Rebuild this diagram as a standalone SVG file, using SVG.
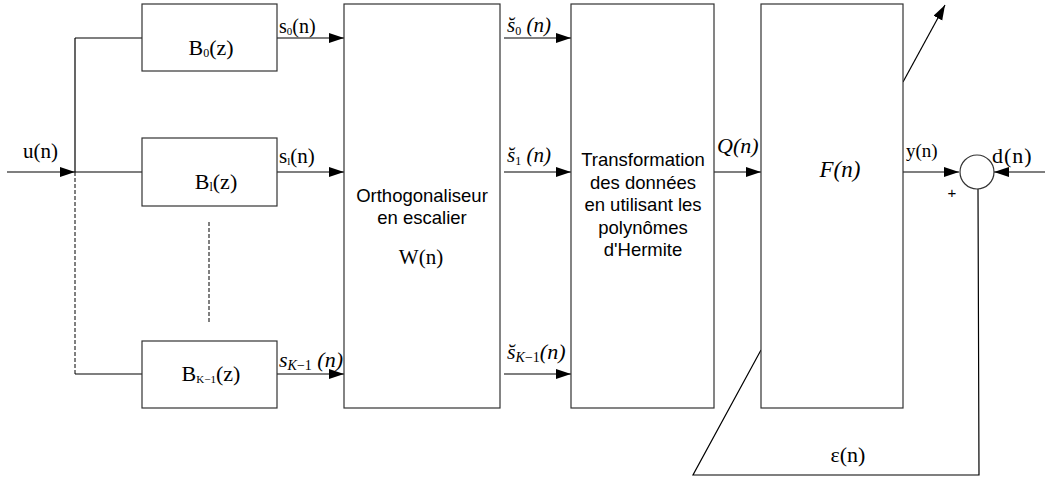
<svg xmlns="http://www.w3.org/2000/svg" width="1045" height="477" viewBox="0 0 1045 477">
<style>
.box{fill:#fff;stroke:#333;stroke-width:1.2}
.ln{fill:none;stroke:#000;stroke-width:1.2}
.dash{fill:none;stroke:#000;stroke-width:1;stroke-dasharray:4,2}
.arr{marker-end:url(#ah)}
.sr{font-family:"Liberation Serif","Times New Roman",serif;fill:#000}
.sa{font-family:"Liberation Sans",Arial,sans-serif;fill:#000;font-size:18.5px;text-anchor:middle}
.it{font-style:italic}
</style>
<defs>
<marker id="ah" markerUnits="userSpaceOnUse" markerWidth="16" markerHeight="11" refX="15" refY="5" orient="auto">
<path d="M0,0 L15,5 L0,10 Z" fill="#000"/>
</marker>
</defs>
<g id="connectors">
<line class="ln arr" x1="7" y1="172" x2="75" y2="172"/>
<line class="ln" x1="75" y1="38" x2="75" y2="172"/>
<line class="ln" x1="75" y1="38" x2="142" y2="38"/>
<line class="ln" x1="75" y1="172" x2="142" y2="172"/>
<line class="dash" x1="75" y1="172" x2="75" y2="374"/>
<line class="ln" x1="75" y1="374" x2="142" y2="374"/>
<line class="dash" x1="209" y1="222" x2="209" y2="323"/>
<line class="ln arr" x1="277" y1="38" x2="344" y2="38"/>
<line class="ln arr" x1="277" y1="172" x2="344" y2="172"/>
<line class="ln arr" x1="277" y1="374" x2="344" y2="374"/>
<line class="ln arr" x1="504" y1="38" x2="571" y2="38"/>
<line class="ln arr" x1="504" y1="172" x2="571" y2="172"/>
<line class="ln arr" x1="504" y1="374" x2="571" y2="374"/>
<line class="ln arr" x1="714" y1="172" x2="761" y2="172"/>
<line class="ln arr" x1="903" y1="172" x2="959" y2="172"/>
<line class="ln arr" x1="1045" y1="172" x2="994" y2="172"/>
<polyline class="ln" points="978,189 979,475 693,475 761,350"/>
<line class="ln arr" x1="903" y1="82" x2="945" y2="5"/>
</g>
<g id="B0">
<rect class="box" x="142" y="4" width="135" height="67"/>
<text class="sr" x="211" y="55" font-size="22" text-anchor="middle">B<tspan font-size="12" dy="2">0</tspan><tspan dy="-2">(z)</tspan></text>
</g>
<g id="B1">
<rect class="box" x="142" y="138" width="135" height="68"/>
<text class="sr" x="216" y="189" font-size="22" text-anchor="middle">B<tspan font-size="12" dy="2">l</tspan><tspan dy="-2">(z)</tspan></text>
</g>
<g id="BK">
<rect class="box" x="142" y="341" width="135" height="67"/>
<text class="sr" x="211" y="381" font-size="22" text-anchor="middle">B<tspan font-size="11" dy="2">K−1</tspan><tspan dy="-2">(z)</tspan></text>
</g>
<g id="W">
<rect class="box" x="344" y="4" width="156" height="404"/>
<text class="sa" x="422" y="202">Orthogonaliseur</text>
<text class="sa" x="422" y="224">en escalier</text>
<text class="sr" x="421" y="264" font-size="21" text-anchor="middle">W(n)</text>
</g>
<g id="H">
<rect class="box" x="571" y="4" width="143" height="404"/>
<text class="sa" x="643" y="166">Transformation</text>
<text class="sa" x="643" y="189">des données</text>
<text class="sa" x="643" y="211">en utilisant les</text>
<text class="sa" x="643" y="234">polynômes</text>
<text class="sa" x="643" y="256">d'Hermite</text>
</g>
<g id="F">
<rect class="box" x="761" y="4" width="142" height="404"/>
<text class="sr it" x="840" y="177" font-size="23" text-anchor="middle">F(n)</text>
</g>
<g id="sum">
<circle class="box" cx="977" cy="172" r="17"/>
<text x="952" y="198" font-family="Liberation Sans, Arial, sans-serif" font-size="15" fill="#000" text-anchor="middle">+</text>
</g>
<g id="labels">
<text class="sr" x="23" y="158" font-size="21">u(n)</text>
<text class="sr" x="279" y="33" font-size="20">s<tspan font-size="11" dy="2">0</tspan><tspan dy="-2">(n)</tspan></text>
<text class="sr" x="279" y="163" font-size="21">s<tspan font-size="11" dy="2">l</tspan><tspan dy="-2">(n)</tspan></text>
<text class="sr it" x="279" y="367" font-size="22">s<tspan font-size="14" dy="3">K</tspan><tspan font-size="14" font-style="normal">−1</tspan><tspan dy="-3"> (n)</tspan></text>
<text class="sr it" x="507" y="32" font-size="21">s̆<tspan font-size="12" dy="3" font-style="normal">0</tspan><tspan dy="-3"> (n)</tspan></text>
<text class="sr it" x="507" y="162" font-size="21">s̆<tspan font-size="12" dy="3" font-style="normal">1</tspan><tspan dy="-3"> (n)</tspan></text>
<text class="sr it" x="507" y="359" font-size="22">s̆<tspan font-size="14" dy="3">K</tspan><tspan font-size="14" font-style="normal">−1</tspan><tspan dy="-3">(n)</tspan></text>
<text class="sr it" x="717" y="153" font-size="22">Q(n)</text>
<text class="sr" x="906" y="157" font-size="19">y(n)</text>
<text class="sr" x="992" y="163" font-size="22" letter-spacing="1">d(n)</text>
<text class="sr" x="848" y="462" font-size="22" text-anchor="middle">ε(n)</text>
</g>
</svg>
